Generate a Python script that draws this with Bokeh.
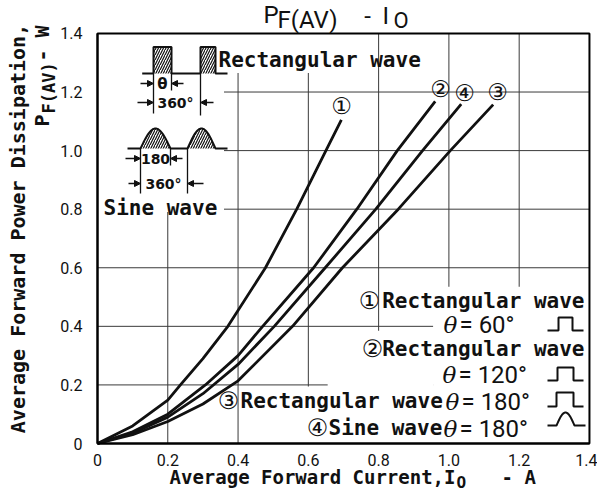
import numpy as np
from bokeh.plotting import figure
from bokeh.models import Label, Range1d, FixedTicker, Arrow, NormalHead
from bokeh.embed import file_html
from bokeh.resources import INLINE

# ---------------- data ----------------
# Average forward current I_O (A) and average forward power dissipation P_F(AV) (W)
i_rect60 = [0, 0.10, 0.20, 0.236, 0.30, 0.371, 0.478, 0.567, 0.650, 0.694]
p_rect60 = [0, 0.060, 0.148, 0.20, 0.29, 0.40, 0.60, 0.80, 1.00, 1.105]

i_rect120 = [0, 0.10, 0.20, 0.307, 0.40, 0.47, 0.615, 0.738, 0.853, 0.961]
p_rect120 = [0, 0.040, 0.100, 0.20, 0.30, 0.40, 0.60, 0.80, 1.00, 1.168]

i_sine180 = [0, 0.10, 0.20, 0.30, 0.40, 0.503, 0.648, 0.792, 0.925, 1.035]
p_sine180 = [0, 0.035, 0.090, 0.170, 0.27, 0.40, 0.60, 0.80, 1.00, 1.159]

i_rect180 = [0, 0.10, 0.20, 0.30, 0.40, 0.555, 0.697, 0.856, 1.004, 1.126]
p_rect180 = [0, 0.030, 0.075, 0.135, 0.214, 0.40, 0.60, 0.80, 1.00, 1.157]

x_ticks = [0, 0.2, 0.4, 0.6, 0.8, 1.0, 1.2, 1.4]
x_tick_labels = ["0", "0.2", "0.4", "0.6", "0.8", "1.0", "1.2", "1.4"]
y_ticks = [0, 0.2, 0.4, 0.6, 0.8, 1.0, 1.2, 1.4]
y_tick_labels = ["0", "0.2", "0.4", "0.6", "0.8", "1.0", "1.2", "1.4"]
grid_ticks = [0.2, 0.4, 0.6, 0.8, 1.0, 1.2]
x_lim = (0, 1.4)
y_lim = (0, 1.4)

# reference-pixel -> data helpers, used only to place annotations
FX0, FXS = 97.0, 351.4
FY0, FYS = 443.0, 292.9
def ax(px):
    return (px - FX0) / FXS
def ay(py):
    return (FY0 - py) / FYS

W, H = 597, 496

# ---------------- figure ----------------
# the frame spans the whole canvas so that titles placed outside the data area are not clipped
p = figure(width=W, height=H, output_backend="svg", toolbar_location=None,
           x_range=Range1d(ax(0), ax(W)), y_range=Range1d(ay(H), ay(0)),
           min_border_left=0, min_border_right=0, min_border_top=0, min_border_bottom=0)
p.background_fill_color = "white"
p.border_fill_color = "white"
p.outline_line_color = None
p.xgrid.visible = False
p.ygrid.visible = False

for ax_, ticks, labels, stand, lim in ((p.xaxis, x_ticks, x_tick_labels, 4, x_lim),
                                      (p.yaxis, y_ticks, y_tick_labels, 9, y_lim)):
    ax_.fixed_location = 0
    ax_.bounds = lim
    ax_.ticker = FixedTicker(ticks=ticks)
    ax_.major_label_overrides = dict(zip(ticks, labels))
    ax_.axis_line_width = 2
    ax_.axis_line_color = "black"
    ax_.major_tick_line_color = None
    ax_.minor_tick_line_color = None
    ax_.major_label_text_font = "Roboto"
    ax_.major_label_text_font_size = "16px"
    ax_.major_label_text_color = "#111111"
    ax_.major_label_standoff = stand

# grid lines at the tick positions
p.segment(x0=grid_ticks, y0=[y_lim[0]] * len(grid_ticks), x1=grid_ticks, y1=[y_lim[1]] * len(grid_ticks),
          line_color="#3a3a3a", line_width=1)
p.segment(x0=[x_lim[0]] * len(grid_ticks), y0=grid_ticks, x1=[x_lim[1]] * len(grid_ticks), y1=grid_ticks,
          line_color="#3a3a3a", line_width=1)

# white panels that hide the grid behind the inset and the legend
panels = [  # left, right, bottom, top (in data units)
    (0.0, 0.36, 0.79, 1.4),
    (0.36, 0.78, 1.265, 1.4),
    (0.955, 1.4, 0.0, 0.535),
    (0.655, 0.955, 0.0, 0.385),
    (0.45, 0.655, 0.0, 0.195),
]
p.quad(left=[q[0] for q in panels], right=[q[1] for q in panels],
       bottom=[q[2] for q in panels], top=[q[3] for q in panels],
       fill_color="white", line_color=None)

# plot border
p.quad(left=[x_lim[0]], right=[x_lim[1]], bottom=[y_lim[0]], top=[y_lim[1]],
       fill_color=None, line_color="black", line_width=2)

# ---------------- curves ----------------
for xs, ys in ((i_rect60, p_rect60), (i_rect120, p_rect120),
               (i_sine180, p_sine180), (i_rect180, p_rect180)):
    p.line(xs, ys, line_color="#111111", line_width=2.8, line_join="round")

def lab(px, py, text, font="DejaVu Sans Mono", size=21, align="left",
        baseline="middle", style="bold", angle=0.0):
    p.add_layout(Label(x=ax(px), y=ay(py), text=text, text_font=font,
                       text_font_size=f"{size}px", text_align=align,
                       text_baseline=baseline, text_font_style=style,
                       angle=angle, text_color="#111111"))

# curve labels
lab(341, 105, "\u2460", font="DejaVu Sans", size=23, align="center", style="normal")
lab(440, 88, "\u2461", font="DejaVu Sans", size=23, align="center", style="normal")
lab(464, 92, "\u2463", font="DejaVu Sans", size=23, align="center", style="normal")
lab(497, 91, "\u2462", font="DejaVu Sans", size=23, align="center", style="normal")

# ---------------- title & axis titles ----------------
lab(263, 14, "P", font="Roboto", size=24, style="normal")
lab(277, 19, "F(AV)", font="Roboto", size=24, style="normal")
lab(367, 15, "-", font="Roboto", size=24, align="center", style="normal")
lab(382, 15, "I", font="Roboto", size=24, style="normal")
lab(393, 20, "O", font="Roboto", size=22, style="normal")

lab(169, 476, "Average Forward Current,I", size=19)
lab(456, 482, "O", size=16)
lab(501, 476, "-  A", size=19)

lab(17, 228, "Average Forward Power Dissipation,", size=20, align="center", angle=np.pi / 2)
lab(41, 126, "P", size=20, angle=np.pi / 2)
lab(48, 113, "F(AV)", size=17, angle=np.pi / 2)
lab(41, 61, " - W", size=20, angle=np.pi / 2)

# ---------------- inset: waveforms ----------------
hatch = dict(fill_color=None, line_color=None, hatch_pattern="/",
             hatch_color="#111111", hatch_scale=5, hatch_weight=1.2)
# rectangular wave
p.quad(left=[ax(153), ax(200)], right=[ax(171), ax(215)],
       bottom=[ay(73)] * 2, top=[ay(46.5)] * 2, **hatch)
rx = [141.7, 153, 153, 171, 171, 200, 200, 215, 215, 227]
ry = [73, 73, 46.5, 46.5, 73, 73, 46.5, 46.5, 73, 73]
p.line([ax(v) for v in rx], [ay(v) for v in ry], line_color="#111111", line_width=2)
# sine wave
t = np.linspace(0, 1, 31)
sx, sy = [ax(127), ax(140)], [ay(148), ay(148)]
for a, b in ((140, 170), (187, 215)):
    hx = list(ax(a) + (ax(b) - ax(a)) * t)
    hy = list(ay(148) + (ay(128) - ay(148)) * np.sin(np.pi * t))
    p.patch(hx, hy, **hatch)
    sx += hx
    sy += hy
sx += [ax(227)]
sy += [ay(148)]
p.line(sx, sy, line_color="#111111", line_width=2)

# extension lines
ext = [(153, 73, 113), (171, 73, 90), (200, 73, 115),
       (140, 148, 193), (170, 148, 165), (187, 148, 193)]
for x0, y0, y1 in ext:
    p.line([ax(x0), ax(x0)], [ay(y0), ay(y1)], line_color="#111111", line_width=1.3)

# dimension arrows
arrows = [(140, 153, 83), (183, 171, 83), (137, 153, 102), (213, 200, 102),
          (125, 140, 158), (182, 170, 158), (128, 140, 183), (203, 187, 183)]
for xa, xb, yy in arrows:
    p.add_layout(Arrow(end=NormalHead(size=6, fill_color="#111111", line_color="#111111"),
                       x_start=ax(xa), y_start=ay(yy), x_end=ax(xb), y_end=ay(yy),
                       line_color="#111111", line_width=1.3))

lab(162, 83, "\u03b8", font="DejaVu Sans", size=15, align="center")
lab(175, 102, "360\u00b0", font="DejaVu Sans", size=14, align="center")
lab(155, 158, "180", font="DejaVu Sans", size=14, align="center")
lab(163, 183, "360\u00b0", font="DejaVu Sans", size=14, align="center")
lab(218, 59, "Rectangular wave")
lab(103, 207, "Sine wave")

# ---------------- legend ----------------
lab(369, 300, "\u2460", font="DejaVu Sans", size=24, align="center", style="normal")
lab(584, 300, "Rectangular wave", align="right")
lab(372, 348, "\u2461", font="DejaVu Sans", size=24, align="center", style="normal")
lab(584, 348, "Rectangular wave", align="right")
lab(228, 400, "\u2462", font="DejaVu Sans", size=24, align="center", style="normal")
lab(240, 400, "Rectangular wave")
lab(317, 427, "\u2463", font="DejaVu Sans", size=24, align="center", style="normal")
lab(328, 427, "Sine wave")

for xl, yl, txt in ((443, 324, "= 60\u00b0"), (442, 374, "= 120\u00b0"),
                    (445, 401, "= 180\u00b0"), (443, 428, "= 180\u00b0")):
    lab(xl, yl, "\u03b8", font="DejaVu Serif", size=23, style="italic")
    lab(xl + 16, yl, txt, font="Roboto", size=24, style="normal")

# legend waveform icons
icons = [(317, 330, 558, 572), (367, 380, 557, 573), (392, 406, 556, 573)]
for top, bot, a, b in icons:
    xs = [547, a, a, b, b, 583]
    ys = [bot, bot, top, top, bot, bot]
    p.line([ax(v) for v in xs], [ay(v) for v in ys], line_color="#111111", line_width=2)
hx = [ax(547), ax(556)] + list(ax(556) + (ax(574) - ax(556)) * t) + [ax(585)]
hy = [ay(425), ay(425)] + list(ay(425) + (ay(412) - ay(425)) * np.sin(np.pi * t)) + [ay(425)]
p.line(hx, hy, line_color="#111111", line_width=2)

open("out.html", "w").write(file_html(p, INLINE))
